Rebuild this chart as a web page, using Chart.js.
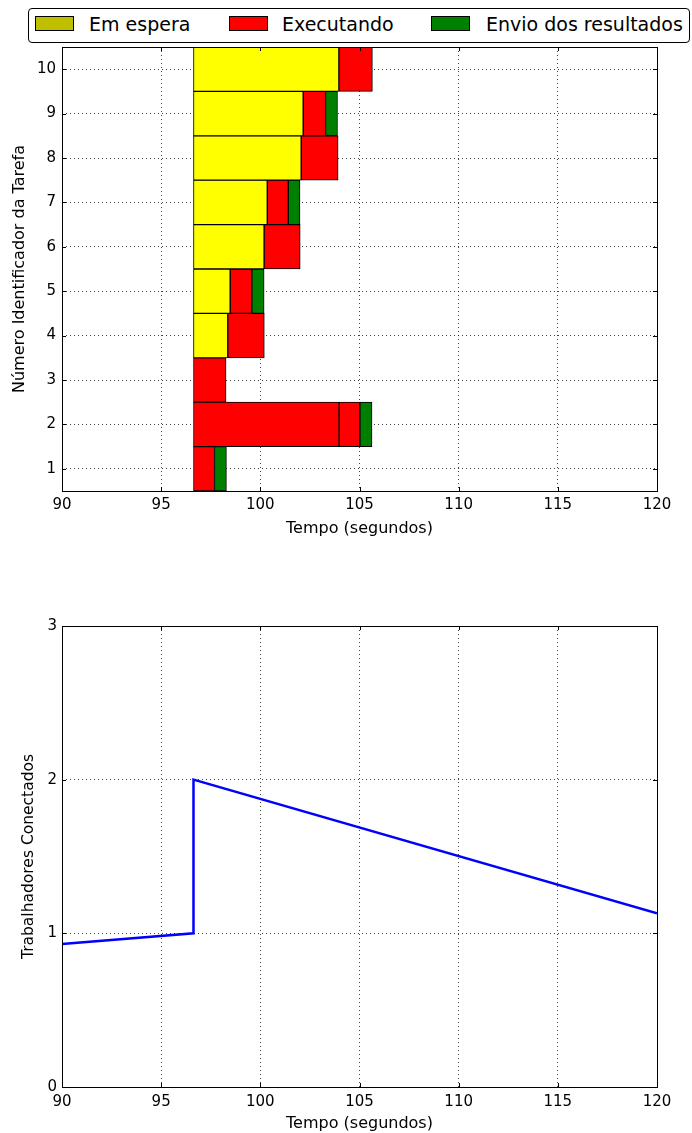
<!DOCTYPE html>
<html>
<head>
<meta charset="utf-8">
<script src="https://cdn.jsdelivr.net/npm/chart.js@4.4.1/dist/chart.umd.min.js"></script>
<style>
  body { margin: 0; background: #fff; width: 692px; height: 1133px; position: relative; overflow: hidden; font-family: 'DejaVu Sans', sans-serif; }
  canvas { position: absolute; left: 0; }
  #chart-tarefas { top: 0; }
  #chart-trabalhadores { top: 560px; }
  .legenda { position: absolute; left: 28px; top: 8px; width: 660px; height: 33px; border: 1px solid #000; border-radius: 4px; background: #fff; z-index: 2; }
  .legenda .sw { position: absolute; top: 7px; width: 37px; height: 13px; border: 1px solid #000; }
  .legenda .tx { position: absolute; top: 0; height: 32px; line-height: 30px; font-size: 19px; color: #000; white-space: nowrap; }
</style>
</head>
<body>
<canvas id="chart-tarefas" width="692" height="545"></canvas>
<canvas id="chart-trabalhadores" width="692" height="573"></canvas>
<div class="legenda" id="legenda"></div>
<script>
// Gráfico 1: linha do tempo das tarefas (início, fim de cada fase)
const tarefas = ['1', '2', '3', '4', '5', '6', '7', '8', '9', '10'];
const inicio = 96.63;
const fimEspera    = [null, null, null, 98.36, 98.48, 100.19, 100.35, 102.06, 102.16, 103.96];
const fimExecucao  = [97.69, 103.97, 98.27, 100.2, 99.57, 102.01, 101.41, 103.92, 103.29, 105.65];
const fimExecucao2 = [null, 105.02, null, null, null, null, null, null, null, null];
const fimEnvio     = [98.29, 105.63, null, null, 100.19, null, 102.0, null, 103.89, null];

// Gráfico 2: trabalhadores conectados ao longo do tempo
const tempo = [90, 96.63, 96.63, 120];
const trabalhadores = [0.93, 1, 2, 1.13];

const ticksTempo = [90, 95, 100, 105, 110, 115, 120];

const legendaItens = [
  { label: 'Em espera',            cor: '#bfbf00', sw: 6,   tx: 60 },
  { label: 'Executando',           cor: '#ff0000', sw: 200, tx: 253 },
  { label: 'Envio dos resultados', cor: '#008000', sw: 402, tx: 457 },
];

const CORES = {
  espera: '#ffff00',
  exec:   '#ff0000',
  envio:  '#008000',
  linha:  '#0000ff',
  grade:  'rgba(0,0,0,0.75)',
};

Chart.defaults.font.family = "'DejaVu Sans', sans-serif";
Chart.defaults.font.size = 15;
Chart.defaults.color = '#000';

// legenda
const leg = document.getElementById('legenda');
legendaItens.forEach(it => {
  const sw = document.createElement('div');
  sw.className = 'sw';
  sw.style.left = it.sw + 'px';
  sw.style.background = it.cor;
  const tx = document.createElement('div');
  tx.className = 'tx';
  tx.style.left = it.tx + 'px';
  tx.textContent = it.label;
  leg.appendChild(sw);
  leg.appendChild(tx);
});

// moldura + marcas internas (estilo matplotlib)
const moldura = {
  id: 'moldura',
  afterDraw(chart) {
    const { ctx, chartArea: a, scales: { x, y } } = chart;
    ctx.save();
    ctx.strokeStyle = '#000';
    ctx.lineWidth = 1;
    ctx.beginPath();
    x.ticks.forEach((t, i) => {
      const p = Math.round(x.getPixelForTick(i)) + 0.5;
      ctx.moveTo(p, a.bottom); ctx.lineTo(p, a.bottom - 4);
      ctx.moveTo(p, a.top); ctx.lineTo(p, a.top + 4);
    });
    y.ticks.forEach((t, i) => {
      const p = Math.round(y.getPixelForTick(i)) + 0.5;
      ctx.moveTo(a.left, p); ctx.lineTo(a.left + 4, p);
      ctx.moveTo(a.right, p); ctx.lineTo(a.right - 4, p);
    });
    ctx.stroke();
    ctx.strokeRect(Math.round(a.left) + 0.5, Math.round(a.top) + 0.5, Math.round(a.width), Math.round(a.height));
    ctx.restore();
  }
};

const grade = { color: CORES.grade, lineWidth: 1, drawTicks: false };
const bordaPontilhada = { display: false, dash: [1, 3] };

function eixoTempo(alturaEixo, padTicks, padTitulo) {
  return {
    type: 'linear',
    min: 90, max: 120,
    z: 1,
    afterBuildTicks: s => { s.ticks = ticksTempo.map(v => ({ value: v })); },
    ticks: { padding: padTicks },
    grid: { ...grade },
    border: { ...bordaPontilhada },
    title: { display: true, text: 'Tempo (segundos)', font: { size: 16 }, padding: { top: 0, bottom: padTitulo } },
    afterFit: s => { s.height = alturaEixo; },
  };
}

// ── Gráfico de tarefas ──
const espera = fimEspera.map(f => f == null ? null : [inicio, f]);
const execucao = fimExecucao.map((f, i) => [fimEspera[i] ?? inicio, f]);
const execucao2 = fimExecucao2.map((f, i) => f == null ? null : [fimExecucao[i], f]);
const envio = fimEnvio.map((f, i) => f == null ? null : [fimExecucao2[i] ?? fimExecucao[i], f]);

const barraBase = { borderColor: '#000', borderWidth: 1, borderSkipped: false, grouped: false, barPercentage: 1, categoryPercentage: 1 };

new Chart(document.getElementById('chart-tarefas'), {
  type: 'bar',
  data: {
    labels: tarefas,
    datasets: [
      { ...barraBase, label: 'Em espera', data: espera, backgroundColor: CORES.espera },
      { ...barraBase, label: 'Executando', data: execucao, backgroundColor: CORES.exec },
      { ...barraBase, label: 'Executando', data: execucao2, backgroundColor: CORES.exec },
      { ...barraBase, label: 'Envio dos resultados', data: envio, backgroundColor: CORES.envio },
    ]
  },
  options: {
    indexAxis: 'y',
    responsive: false,
    animation: false,
    layout: { padding: { left: 0, right: 35, top: 47, bottom: 0 } },
    plugins: { legend: { display: false }, tooltip: { enabled: false } },
    scales: {
      x: eixoTempo(54, 5, 7),
      y: {
        type: 'category',
        reverse: true,
        offset: true,
        z: 1,
        ticks: { padding: 6 },
        grid: { ...grade, offset: false },
        border: { ...bordaPontilhada },
        title: { display: true, text: 'Número Identificador da Tarefa', font: { size: 16 }, padding: { top: 10, bottom: 0 } },
        afterFit: s => { s.width = 62; },
      }
    }
  },
  plugins: [moldura]
});

// ── Gráfico de trabalhadores ──
const pontos = tempo.map((t, i) => ({ x: t, y: trabalhadores[i] }));

new Chart(document.getElementById('chart-trabalhadores'), {
  type: 'line',
  data: {
    datasets: [{
      data: pontos,
      borderColor: CORES.linha,
      borderWidth: 2.5,
      pointRadius: 0,
      tension: 0,
      fill: false,
    }]
  },
  options: {
    responsive: false,
    animation: false,
    layout: { padding: { left: 0, right: 35, top: 66, bottom: 0 } },
    plugins: { legend: { display: false }, tooltip: { enabled: false } },
    scales: {
      x: eixoTempo(46, 6, 0),
      y: {
        type: 'linear',
        min: 0, max: 3,
        z: 1,
        ticks: { stepSize: 1, padding: 5 },
        grid: { ...grade },
        border: { ...bordaPontilhada },
        title: { display: true, text: 'Trabalhadores Conectados', font: { size: 15.5 }, padding: { top: 20, bottom: 0 } },
        afterFit: s => { s.width = 62; },
      }
    }
  },
  plugins: [moldura]
});
</script>
</body>
</html>
